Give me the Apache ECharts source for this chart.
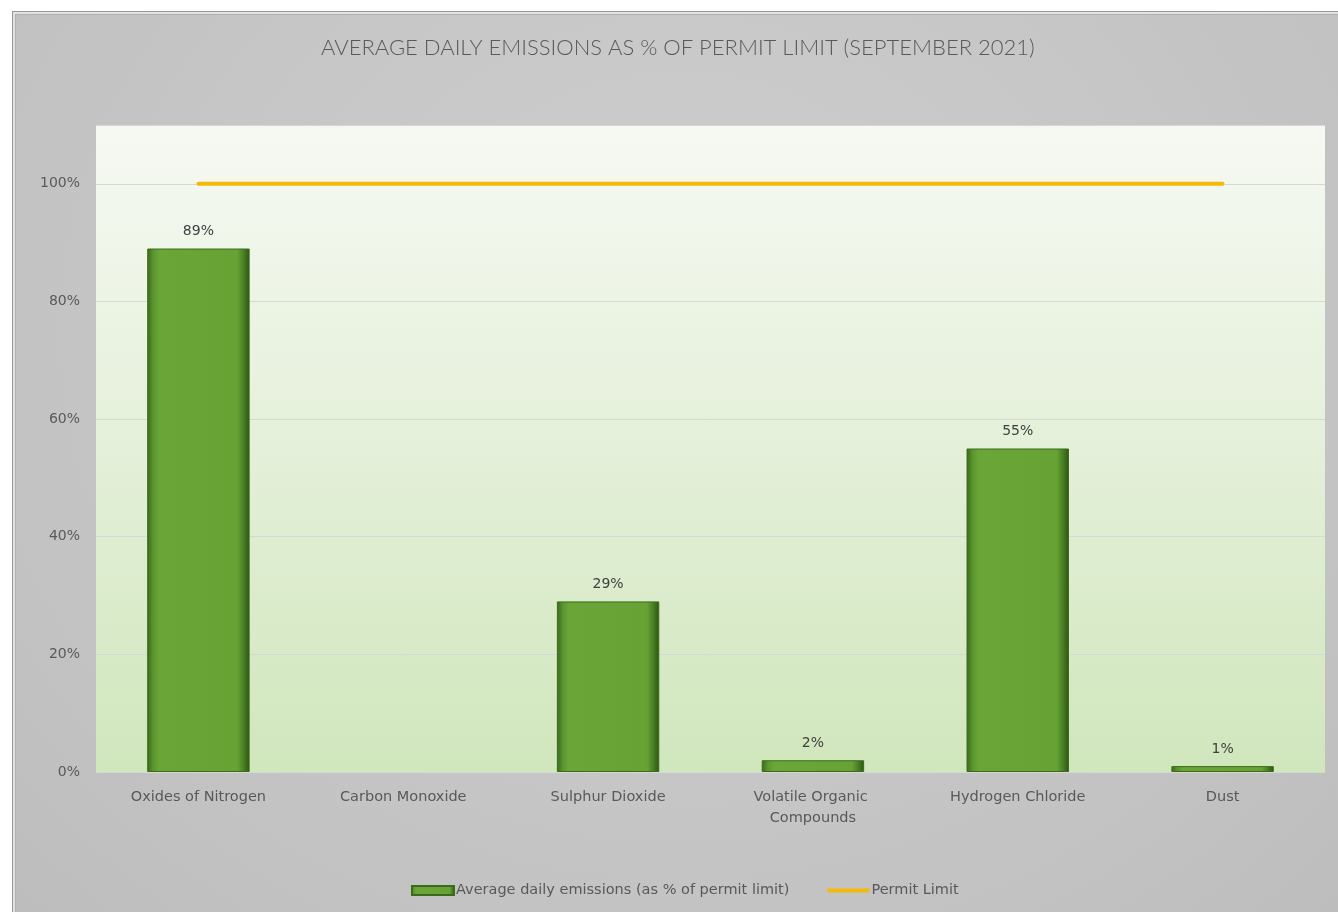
<!DOCTYPE html>
<html>
<head>
<meta charset="utf-8">
<title>Average daily emissions as % of permit limit</title>
<script src="https://cdn.jsdelivr.net/npm/echarts@6/dist/echarts.min.js"></script>
<style>
  html, body { margin: 0; padding: 0; background: #ffffff; width: 1338px; height: 912px; overflow: hidden; }
  #frame {
    position: absolute; left: 12px; top: 11px; width: 1340px; height: 910px;
    box-sizing: border-box;
    border: 1px solid #9a9a9a;
    background: radial-gradient(ellipse at 50% 35%, #cdcdcd 0%, #c6c6c6 55%, #bdbdbd 100%);
    box-shadow: inset 2px 2px 0 #e2e2e2, inset 3px 3px 0 #b0b0b0;
  }
  #chart { position: absolute; left: 0; top: 0; width: 1338px; height: 912px; }
</style>
</head>
<body>
<div id="frame"></div>
<div id="chart"></div>
<script>
// Pollutants reported, monthly averages as a share of each permit limit (%)
const categories = [
  'Oxides of Nitrogen',
  'Carbon Monoxide',
  'Sulphur Dioxide',
  'Volatile Organic Compounds',
  'Hydrogen Chloride',
  'Dust'
];
const emissionsPct = [89, null, 29, 2, 55, 1];
const permitLimitPct = [100, 100, 100, 100, 100, 100];
const yTicks = { min: 0, max: 110, interval: 20 };

const textColor = '#595959';
const titleFont = 'Lato, "Open Sans", sans-serif';
const bodyFont = '"DejaVu Sans", "Open Sans", sans-serif';

const barFill = {
  type: 'linear', x: 0, y: 0, x2: 1, y2: 0,
  colorStops: [
    { offset: 0, color: '#3a681c' },
    { offset: 0.06, color: '#5b962e' },
    { offset: 0.12, color: '#6aa637' },
    { offset: 0.88, color: '#67a235' },
    { offset: 0.94, color: '#4a8024' },
    { offset: 1, color: '#2b5414' }
  ]
};

const chart = echarts.init(document.getElementById('chart'), null, { renderer: 'canvas' });

chart.setOption({
  backgroundColor: 'transparent',
  animation: false,
  textStyle: { fontFamily: bodyFont, color: textColor },
  title: {
    text: 'AVERAGE DAILY EMISSIONS AS % OF PERMIT LIMIT (SEPTEMBER 2021)',
    left: 316,
    top: 32,
    textStyle: { fontFamily: titleFont, fontWeight: 300, fontSize: 22, color: textColor }
  },
  grid: {
    left: 96, top: 125, width: 1229, height: 647,
    show: true,
    borderWidth: 0,
    backgroundColor: {
      type: 'linear', x: 0, y: 0, x2: 0, y2: 1,
      colorStops: [
        { offset: 0, color: '#f6f9f3' },
        { offset: 0.45, color: '#e6f1dc' },
        { offset: 1, color: '#d0e6bc' }
      ]
    }
  },
  legend: {
    bottom: 9,
    left: 406,
    itemGap: 38,
    itemWidth: 42,
    itemHeight: 9,
    textStyle: { fontFamily: bodyFont, fontSize: 14.5, color: textColor, padding: [0, 0, 0, -3] },
    data: [
      { name: 'Average daily emissions (as % of permit limit)', icon: 'rect' },
      { name: 'Permit Limit', icon: 'path://M0,0H42V4H0Z' }
    ]
  },
  xAxis: {
    type: 'category',
    data: categories,
    axisLine: { show: false },
    axisTick: { show: false },
    axisLabel: {
      margin: 15,
      fontSize: 14.5,
      fontFamily: bodyFont,
      color: textColor,
      lineHeight: 21,
      width: 170,
      overflow: 'break',
      interval: 0
    }
  },
  yAxis: {
    type: 'value',
    min: yTicks.min,
    max: yTicks.max,
    interval: yTicks.interval,
    axisLine: { show: false },
    axisTick: { show: false },
    axisLabel: {
      formatter: function (v) { return v > 100 ? '' : v + '%'; },
      fontSize: 14,
      fontFamily: bodyFont,
      color: textColor,
      margin: 16
    },
    splitLine: { lineStyle: { color: '#d6d9d2', width: 1 } }
  },
  series: [
    {
      name: 'Average daily emissions (as % of permit limit)',
      type: 'bar',
      data: emissionsPct,
      barWidth: '50%',
      itemStyle: { color: barFill, borderColor: '#3c6a1c', borderWidth: 1 },
      label: {
        show: true,
        position: 'top',
        distance: 10,
        formatter: '{c}%',
        fontSize: 14,
        color: '#404040',
        fontFamily: bodyFont
      },
      z: 2
    },
    {
      name: 'Permit Limit',
      type: 'line',
      data: permitLimitPct,
      showSymbol: false,
      symbol: 'none',
      lineStyle: { color: '#f5b90a', width: 4, cap: 'round' },
      itemStyle: { color: '#f5b90a' },
      z: 3
    }
  ]
});
</script>
</body>
</html>
